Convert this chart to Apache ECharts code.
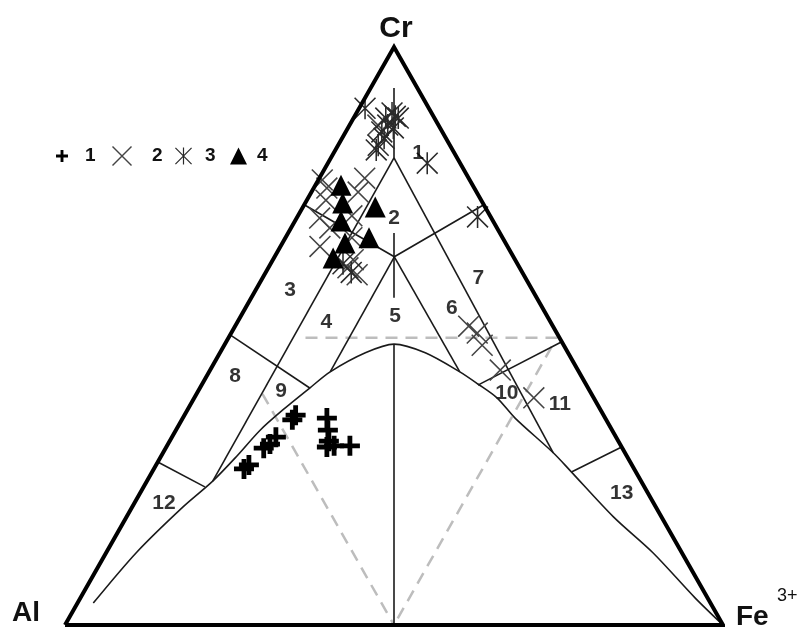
<!DOCTYPE html>
<html>
<head>
<meta charset="utf-8">
<title>Cr - Al - Fe3+ spinel diagram</title>
<script src="https://cdn.jsdelivr.net/npm/echarts@6/dist/echarts.min.js"></script>
<style>
  html, body { margin: 0; padding: 0; background: #fff; }
  #chart { width: 797px; height: 631px; }
</style>
</head>
<body>
<div id="chart"></div>
<script>
// every point is [Cr %, Fe3+ %], Al % is what is left
const outline = [[0, 0], [0, 100], [100, 0], [0, 0]];

// field boundaries (thin lines)
const boundaries = [
  [[92.9, 3.55], [80.8, 9.6]],            // centre line, top piece
  [[67.8, 16.1], [56.6, 21.7]],           // centre line between 2 and 5
  [[48.6, 25.7], [0, 50]],                // centre line under the curve
  [[80.8, 9.6], [24.9, 10.0]],            // Fe = 10
  [[80.8, 9.6], [29.8, 59.3]],            // Al = 10
  [[72.7, 0], [63.7, 18.2], [72.7, 27.3]],
  [[63.7, 18.2], [43.8, 18.4]],
  [[63.7, 18.2], [43.8, 38.1]],
  [[50.2, 0], [41.0, 16.7]],              // 3 / 8
  [[49.0, 51.0], [41.5, 42.0]],           // 6,7 / 10,11
  [[28.2, 0], [23.9, 9.3]],               // 8 / 12
  [[30.8, 69.2], [26.5, 63.8]]            // 11 / 13
];

const dashed = [
  [[49.7, 11.7], [49.7, 50.3]],
  [[40.0, 10.0], [0, 50]],
  [[48.1, 49.9], [0, 50]]
];

const curve = [
  [3.8, 2.4], [12.6, 4.6], [20.4, 7.7], [24.9, 10.0], [29.2, 11.5],
  [33.7, 12.8], [37.2, 14.5], [41.0, 16.7], [43.8, 18.4], [47.1, 22.1],
  [48.6, 25.7], [47.1, 31.2], [43.8, 38.1], [41.7, 41.9], [39.3, 46.0],
  [35.8, 50.5], [29.8, 59.3], [26.8, 63.3], [18.7, 74.0], [12.5, 83.1],
  [4.7, 93.4], [0, 100]
];

// samples
const group1 = [
  [27.0, 13.7], [27.7, 14.1], [30.6, 14.9], [31.3, 15.5], [32.5, 15.8],
  [35.5, 16.8], [36.3, 16.9], [35.8, 21.9], [33.7, 23.1], [31.8, 24.2],
  [30.8, 24.4], [31.0, 25.4], [31.0, 27.8]
];
const group2 = [
  [77.0, 0.6], [77.3, 6.9], [74.9, 7.1], [70.4, 3.5], [68.7, 5.9],
  [70.8, 8.2], [67.0, 10.1], [61.8, 12.1], [60.6, 14.1], [63.2, 12.2],
  [73.5, 2.9], [86.5, 4.3], [65.5, 6.0], [75.6, 2.0],
  [51.7, 35.5], [50.5, 37.4], [48.4, 39.2], [44.1, 44.1], [39.3, 51.6]
];
const group3 = [
  [89.4, 0.9], [87.7, 4.9], [88.6, 5.4], [87.7, 6.8], [85.3, 5.5],
  [83.0, 6.1], [86.5, 5.8], [82.2, 6.2], [84.2, 6.4], [86.0, 6.9],
  [88.0, 6.2], [79.9, 15.1], [70.6, 27.4], [62.5, 11.0], [61.0, 13.0]
];
const group4 = [
  [76.1, 3.9], [73.0, 5.7], [72.3, 11.0], [69.9, 7.0], [67.0, 12.7],
  [66.1, 9.5], [63.5, 9.0]
];

const fieldNames = ['1', '2', '3', '4', '5', '6', '7', '8', '9', '10', '11', '12', '13'];
const fieldPos = [
  [81.7, 12.8], [70.4, 14.8], [58.0, 5.2], [52.4, 13.5], [53.5, 23.4],
  [54.8, 31.4], [60.0, 32.8], [43.1, 4.3], [40.5, 12.6], [40.1, 47.1],
  [38.2, 56.1], [21.1, 4.5], [22.8, 73.2]
];

// ternary -> cartesian (x across the base, y = Cr)
function toXY(p) {
  return [p[1] + p[0] / 2, p[0]];
}

const plusIcon = 'path://M-1.2,-5H1.2V-1.2H5V1.2H1.2V5H-1.2V1.2H-5V-1.2H-1.2Z';
const crossIcon = 'path://M-5,-4.5L-4.5,-5L5,4.5L4.5,5Z M4.5,-5L5,-4.5L-4.5,5L-5,4.5Z';
const starIcon = 'path://M-5,-4.5L-4.5,-5L5,4.5L4.5,5Z M4.5,-5L5,-4.5L-4.5,5L-5,4.5Z M-0.35,-5H0.35V5H-0.35Z';
const triIcon = 'path://M0,-5L5,5L-5,5Z';

const font = '"Liberation Sans", Arial, sans-serif';

// one small legend per key so each symbol sits where the original has it
const legendKeys = [
  { name: '1', icon: plusIcon, left: 51, size: 12, pad: 12 },
  { name: '2', icon: crossIcon, left: 107, size: 20, pad: 15 },
  { name: '3', icon: starIcon, left: 170, size: 17, pad: 8 },
  { name: '4', icon: triIcon, left: 225, size: 17, pad: 5 }
];

const chart = echarts.init(document.getElementById('chart'));
chart.setOption({
  animation: false,
  backgroundColor: '#fff',
  grid: { left: 65, right: 74, top: 47, bottom: 6 },
  xAxis: { type: 'value', min: 0, max: 100, show: false },
  yAxis: { type: 'value', min: 0, max: 100, show: false },
  legend: legendKeys.map(k => ({
    left: k.left,
    top: 141,
    itemWidth: k.size,
    itemHeight: k.size,
    selectedMode: false,
    textStyle: {
      fontSize: 19, fontWeight: 'bold', color: '#111', fontFamily: font,
      lineHeight: 20, padding: [0, 0, 0, k.pad]
    },
    data: [{ name: k.name, icon: k.icon }]
  })),
  graphic: [
    { type: 'text', x: 396, y: 29, style: { text: 'Cr', font: 'bold 30px ' + font, fill: '#111', textAlign: 'center', textVerticalAlign: 'middle' } },
    { type: 'text', x: 12, y: 613, style: { text: 'Al', font: 'bold 28px ' + font, fill: '#111', textAlign: 'left', textVerticalAlign: 'middle' } },
    { type: 'text', x: 736, y: 617, style: { text: 'Fe', font: 'bold 28px ' + font, fill: '#111', textAlign: 'left', textVerticalAlign: 'middle' } },
    { type: 'text', x: 777, y: 596, style: { text: '3+', font: '18px ' + font, fill: '#111', textAlign: 'left', textVerticalAlign: 'middle' } }
  ],
  series: [
    {
      type: 'lines',
      coordinateSystem: 'cartesian2d',
      polyline: true,
      clip: false,
      silent: true,
      lineStyle: { color: '#bdbdbd', width: 2.5, opacity: 1, type: [12, 8] },
      data: dashed.map(l => ({ coords: l.map(toXY) }))
    },
    {
      type: 'lines',
      coordinateSystem: 'cartesian2d',
      polyline: true,
      clip: false,
      silent: true,
      lineStyle: { color: '#1a1a1a', width: 1.6, opacity: 1 },
      data: boundaries.map(l => ({ coords: l.map(toXY) }))
    },
    {
      type: 'line',
      data: curve.map(toXY),
      smooth: 0.3,
      symbol: 'none',
      clip: false,
      silent: true,
      lineStyle: { color: '#1a1a1a', width: 1.6 }
    },
    {
      type: 'line',
      data: outline.map(toXY),
      symbol: 'none',
      clip: false,
      silent: true,
      lineStyle: { color: '#000', width: 4, join: 'miter' }
    },
    {
      type: 'scatter',
      data: fieldNames.map((n, i) => ({ name: n, value: toXY(fieldPos[i]) })),
      symbolSize: 0,
      clip: false,
      silent: true,
      label: {
        show: true,
        position: 'inside',
        formatter: '{b}',
        fontSize: 21,
        fontWeight: 'bold',
        color: '#000',
        fontFamily: font
      }
    },
    {
      name: '2', type: 'scatter', data: group2.map(toXY),
      symbol: crossIcon, symbolSize: 22, clip: false,
      itemStyle: { color: '#444', opacity: 1 }
    },
    {
      name: '3', type: 'scatter', data: group3.map(toXY),
      symbol: starIcon, symbolSize: 22, clip: false,
      itemStyle: { color: '#2a2a2a', opacity: 1 }
    },
    {
      name: '4', type: 'scatter', data: group4.map(toXY),
      symbol: triIcon, symbolSize: 21, clip: false,
      itemStyle: { color: '#000', opacity: 1 }
    },
    {
      name: '1', type: 'scatter', data: group1.map(toXY),
      symbol: plusIcon, symbolSize: 20, clip: false,
      itemStyle: { color: '#000', opacity: 1 }
    }
  ]
});
</script>
</body>
</html>
